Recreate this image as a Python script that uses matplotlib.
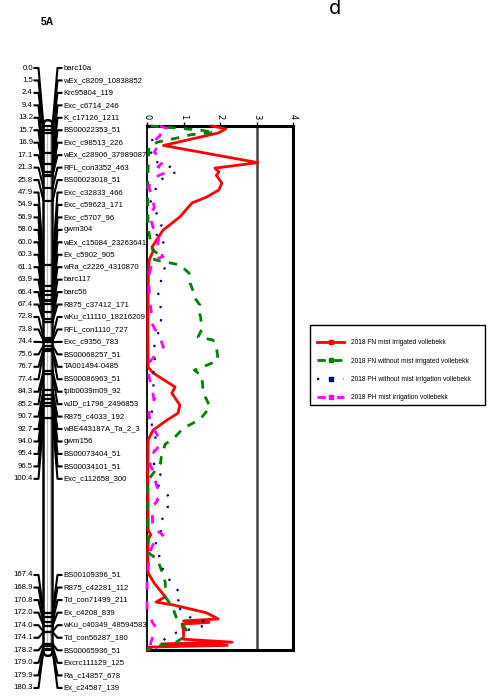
import numpy as np
import matplotlib.pyplot as plt
from matplotlib.patches import FancyBboxPatch, Rectangle
from matplotlib.lines import Line2D

# linkage group 5A: marker positions (cM) and names
pos = [0.0, 1.5, 2.4, 9.4, 13.2, 15.7, 16.9, 17.1, 21.3, 25.8,
       47.9, 54.9, 56.9, 58.0, 60.0, 60.3, 61.1, 63.9, 66.4, 67.4,
       72.8, 73.8, 74.4, 75.6, 76.7, 77.4, 84.3, 85.2, 90.7, 92.7,
       94.0, 95.4, 96.5, 100.4,
       167.4, 168.9, 170.8, 172.0, 174.0, 174.1, 178.2, 179.0, 179.9, 180.3]
names = ["barc10a", "wEx_c8209_10838852", "Krc95804_119", "Exc_c6714_246",
         "K_c17126_1211", "BS00022353_51", "Exc_c98513_226", "wEx_c28906_37989087",
         "RFL_con3352_463", "BS00023018_51", "Exc_c32833_466", "Exc_c59623_171",
         "Exc_c5707_96", "gwm304", "wEx_c15084_23263641", "Ex_c5902_905",
         "wRa_c2226_4310870", "barc117", "barc56", "R875_c37412_171",
         "wKu_c11110_18216209", "RFL_con1110_727", "Exc_c9356_783", "BS00068257_51",
         "TA001494-0485", "BS00086963_51", "tplb0039m09_92", "wJD_c1796_2496853",
         "R875_c4033_192", "wBE443187A_Ta_2_3", "gwm156", "BS00073404_51",
         "BS00034101_51", "Exc_c112658_300",
         "BS00109396_51", "R875_c42281_112", "Td_con71499_211", "Ex_c4208_839",
         "wKu_c40349_48594583", "Td_con56287_180", "BS00065936_51",
         "Excrc111129_125", "Ra_c14857_678", "Ex_c24587_139"]

# LOD profiles (cM, LOD)
fn_mist = [(0, 1.78), (1.0, 2.16), (2.4, 1.95), (6.7, 0.45), (12.6, 3.04), (14.5, 1.86),
           (15.8, 1.97), (17.0, 1.9), (19.6, 2.05), (22.0, 1.97), (24.4, 1.64), (26.5, 1.23),
           (31.3, 0.9), (35.8, 0.44), (41.6, 0.14), (42.7, 0.18), (46.1, 0.06), (50, 0.04),
           (60, 0.03), (70, 0.02), (80, 0.03), (83, 0.03), (85, 0.17), (89.8, 0.77),
           (91.9, 0.68), (96.0, 0.9), (98.8, 0.85), (101.2, 0.55), (104.6, 0.17), (108, 0.03),
           (120, 0.02), (130, 0.03), (139, 0.03), (140.7, 0.1), (142.4, 0.03), (150, 0.02),
           (153.8, 0.03), (157.3, 0.2), (162.0, 0.5), (163.8, 0.25), (164.8, 0.72),
           (167.5, 1.63), (169.6, 1.95), (170.3, 1.0), (170.8, 1.7), (171.4, 0.96),
           (173.6, 1.0), (176.6, 1.0), (177.6, 2.33), (178.2, 0.4), (178.7, 2.2),
           (179.3, 0.05), (180.3, 0.02)]
fn_nomist = [(0, 0.1), (0.8, 0.9), (1.5, 1.5), (2.2, 1.85), (3.0, 1.2), (4.2, 0.8),
             (5.5, 0.3), (7, 0.05), (20, 0.02), (35, 0.03), (40, 0.1), (42.5, 0.15),
             (44.5, 0.35), (46, 0.2), (47.8, 0.9), (50.6, 1.15), (54, 1.18), (57, 1.27),
             (59, 1.3), (61.6, 1.45), (64, 1.42), (65.7, 1.47), (70, 1.5), (72.6, 1.4),
             (73.6, 1.8), (76, 1.9), (80.5, 1.95), (82, 1.7), (84, 1.3), (86, 1.5),
             (90, 1.53), (93, 1.59), (96.7, 1.73), (101, 1.45), (104, 0.99), (107, 0.77),
             (109.5, 0.5), (113, 0.4), (116, 0.37), (119.5, 0.17), (122, 0.02), (140, 0.02),
             (147, 0.05), (149, 0.28), (153, 0.4), (157, 0.5), (162, 0.5), (165.5, 0.7),
             (169, 0.8), (171, 0.96), (174, 1.1), (176, 1.0), (178, 0.75), (179, 0.2),
             (180.3, 0.02)]
ph_nomist = [(0, 0.05), (3, 0.1), (5.8, 0.17), (8, 0.1), (12, 0.15), (13, 0.45), (14.5, 0.7),
             (15.5, 0.85), (17, 0.6), (19, 0.3), (21, 0.26), (26, 0.1), (31, 0.3), (34, 0.4),
             (37, 0.2), (39, 0.5), (41, 0.4), (43.7, 0.4), (49.6, 0.49), (53, 0.39), (57, 0.3),
             (61, 0.35), (64, 0.4), (69, 0.37), (73.6, 0.24), (77, 0.18), (81.5, 0.23),
             (87, 0.15), (92, 0.21), (95, 0.2), (100, 0.1), (104, 0.15), (108, 0.25),
             (110, 0.22), (114, 0.18), (118, 0.2), (120, 0.37), (123, 0.25), (126, 0.5),
             (128, 0.63), (129.4, 0.55), (131, 0.57), (134, 0.5), (136, 0.37), (139, 0.4),
             (143, 0.23), (147.6, 0.33), (150, 0.37), (155, 0.5), (157, 0.7), (159, 0.78),
             (161, 0.95), (163, 0.9), (163.8, 0.75), (167.6, 1.0), (169, 1.17), (170, 1.5),
             (171.7, 1.68), (172.7, 1.3), (173.5, 1.1), (174.5, 0.75), (176, 0.55),
             (177.5, 0.38), (179.6, 0.3), (180.3, 0.25)]
ph_mist = [(0, 0.35), (1, 0.6), (2, 0.4), (3.4, 0.35), (5.5, 0.17), (7, 0.29), (9, 0.2),
           (11, 0.37), (12.4, 0.45), (14, 0.3), (15.8, 0.55), (18, 0.15), (21, 0.05),
           (25, 0.15), (28, 0.2), (31, 0.08), (35, 0.17), (37, 0.35), (40, 0.3), (43, 0.3),
           (45, 0.44), (46, 0.17), (50, 0.08), (54, 0.05), (61, 0.08), (64, 0.12), (67, 0.1),
           (70, 0.22), (71, 0.3), (76, 0.45), (78, 0.3), (81, 0.08), (86, 0.05), (91, 0.15),
           (95, 0.2), (99, 0.05), (103, 0.1), (105.6, 0.25), (108, 0.35), (110, 0.3),
           (111, 0.28), (114, 0.05), (117, 0.1), (119.4, 0.2), (121, 0.2), (125, 0.3),
           (127, 0.2), (128.7, 0.3), (131, 0.15), (134, 0.15), (138.6, 0.15), (139.5, 0.3),
           (140.7, 0.44), (143, 0.2), (146, 0.1), (150, 0.05), (155, 0.0), (166, 0.0),
           (170.8, 0.15), (172.7, 0.25), (174, 0.2), (178, 0.1), (180.3, 0.1)]

series_labels = ["2018 FN mist irrigated vollebekk",
                 "2018 FN without mist irrigated vollebekk",
                 "2018 PH without mist irrigation vollebekk",
                 "2018 PH mist irrigation vollebekk"]
lod_ticks = [0, 1, 2, 3, 4]
threshold = 3

narrow = ['Liberation Sans', 'DejaVu Sans']
lab_fs = 5.6

W, H = 490, 698
fig = plt.figure(figsize=(W / 100, H / 100), dpi=100)
top_px, bot_px = 126, 650
map_len = max(pos)
k = (bot_px - top_px) / map_len  # px per cM

rect_y = 1 - bot_px / H
rect_h = (bot_px - top_px) / H

# ---- linkage map ----
axc = fig.add_axes([0, rect_y, 147 / W, rect_h])
axc.set_xlim(0, 147)
axc.set_ylim(map_len, 0)
axc.axis('off')

cx0, cx1 = 43.5, 52.5
chrom = FancyBboxPatch((cx0, -2.0), cx1 - cx0, map_len + 4.0,
                       boxstyle="round,pad=0,rounding_size=4.5",
                       mutation_aspect=1 / k, fc='white', ec='black', lw=1.8,
                       clip_on=False, zorder=2)
axc.add_patch(chrom)
axc.vlines([cx0 + 3, cx1 - 3], -1, map_len + 2, color='#bbbbbb', lw=0.8, zorder=2)

# label layout: two blocks of evenly spaced labels (start px, step px)
blocks = [(0, 34, 68, 12.45), (34, 44, 575, 12.55)]
label_cm = np.zeros(len(pos))
for i0, i1, start, step in blocks:
    for j, i in enumerate(range(i0, i1)):
        label_cm[i] = (start + j * step - top_px) / k

for p, lc, nm in zip(pos, label_cm, names):
    axc.plot([cx0, cx1], [p, p], color='black', lw=1.6, zorder=3, clip_on=False)
    axc.plot([33.5, 38.5, cx0], [lc, lc, p], color='black', lw=1.5, zorder=3,
             clip_on=False, solid_capstyle='butt')
    axc.plot([cx1, 57.5, 62.5], [p, lc, lc], color='black', lw=1.5, zorder=3,
             clip_on=False, solid_capstyle='butt')
    axc.text(33, lc, f"{p:.1f}", ha='right', va='center', fontsize=lab_fs,
             family=narrow, clip_on=False)
    axc.text(63.5, lc, nm, ha='left', va='center', fontsize=lab_fs,
             family=narrow, clip_on=False)

fig.text(47 / W, 1 - 22 / H, "5A", ha='center', va='center', fontsize=7.5,
         fontweight='bold', family=narrow)
fig.text(335 / W, 1 - 9 / H, "d", ha='center', va='center', fontsize=14)

# ---- LOD profiles ----
ax = fig.add_axes([147 / W, rect_y, 146 / W, rect_h])
ax.patch.set_visible(False)
ax.set_xlim(0, 4)
ax.set_ylim(map_len, 0)

styles = [dict(color='red', lw=2.0, ls='-'),
          dict(color='green', lw=2.0, ls=(0, (3, 3))),
          dict(color='navy', lw=1.6, ls=(0, (1, 5))),
          dict(color='magenta', lw=2.0, ls=(0, (3, 4)))]
profiles = [fn_mist, fn_nomist, ph_nomist, ph_mist]
handles = []
for prof, st, lab in zip(profiles, styles, series_labels):
    cm, lod = zip(*prof)
    ax.plot(lod, cm, zorder=3, clip_on=False, **st)
    handles.append(Line2D([], [], marker='s', markersize=3.5, label=lab, **st))

ax.axvline(threshold, color='#444444', lw=1.8, zorder=1)
ax.set_xticks(lod_ticks)
ax.set_xticklabels([str(t) for t in lod_ticks], rotation=270, fontsize=6)
ax.xaxis.tick_top()
ax.tick_params(axis='x', length=3, width=1, pad=2)
ax.set_yticks([])
ax.spines['top'].set_linewidth(2.2)
ax.spines['bottom'].set_linewidth(2.2)
ax.spines['right'].set_linewidth(2.2)
ax.spines['left'].set_linewidth(1.3)

# ---- legend ----
fig.patches.append(Rectangle((310 / W, 1 - 405 / H), 175 / W, 80 / H,
                             transform=fig.transFigure, fc='white', ec='black',
                             lw=1.0, zorder=1))
leg = fig.legend(handles=handles, loc='upper left',
                 bbox_to_anchor=(312 / W, 1 - 334 / H), frameon=False,
                 handlelength=4.0, labelspacing=1.7, borderpad=0.3,
                 handletextpad=1.0, prop={'family': narrow, 'size': 4.8})
leg.set_zorder(5)

fig.savefig("out.png", dpi=100)
